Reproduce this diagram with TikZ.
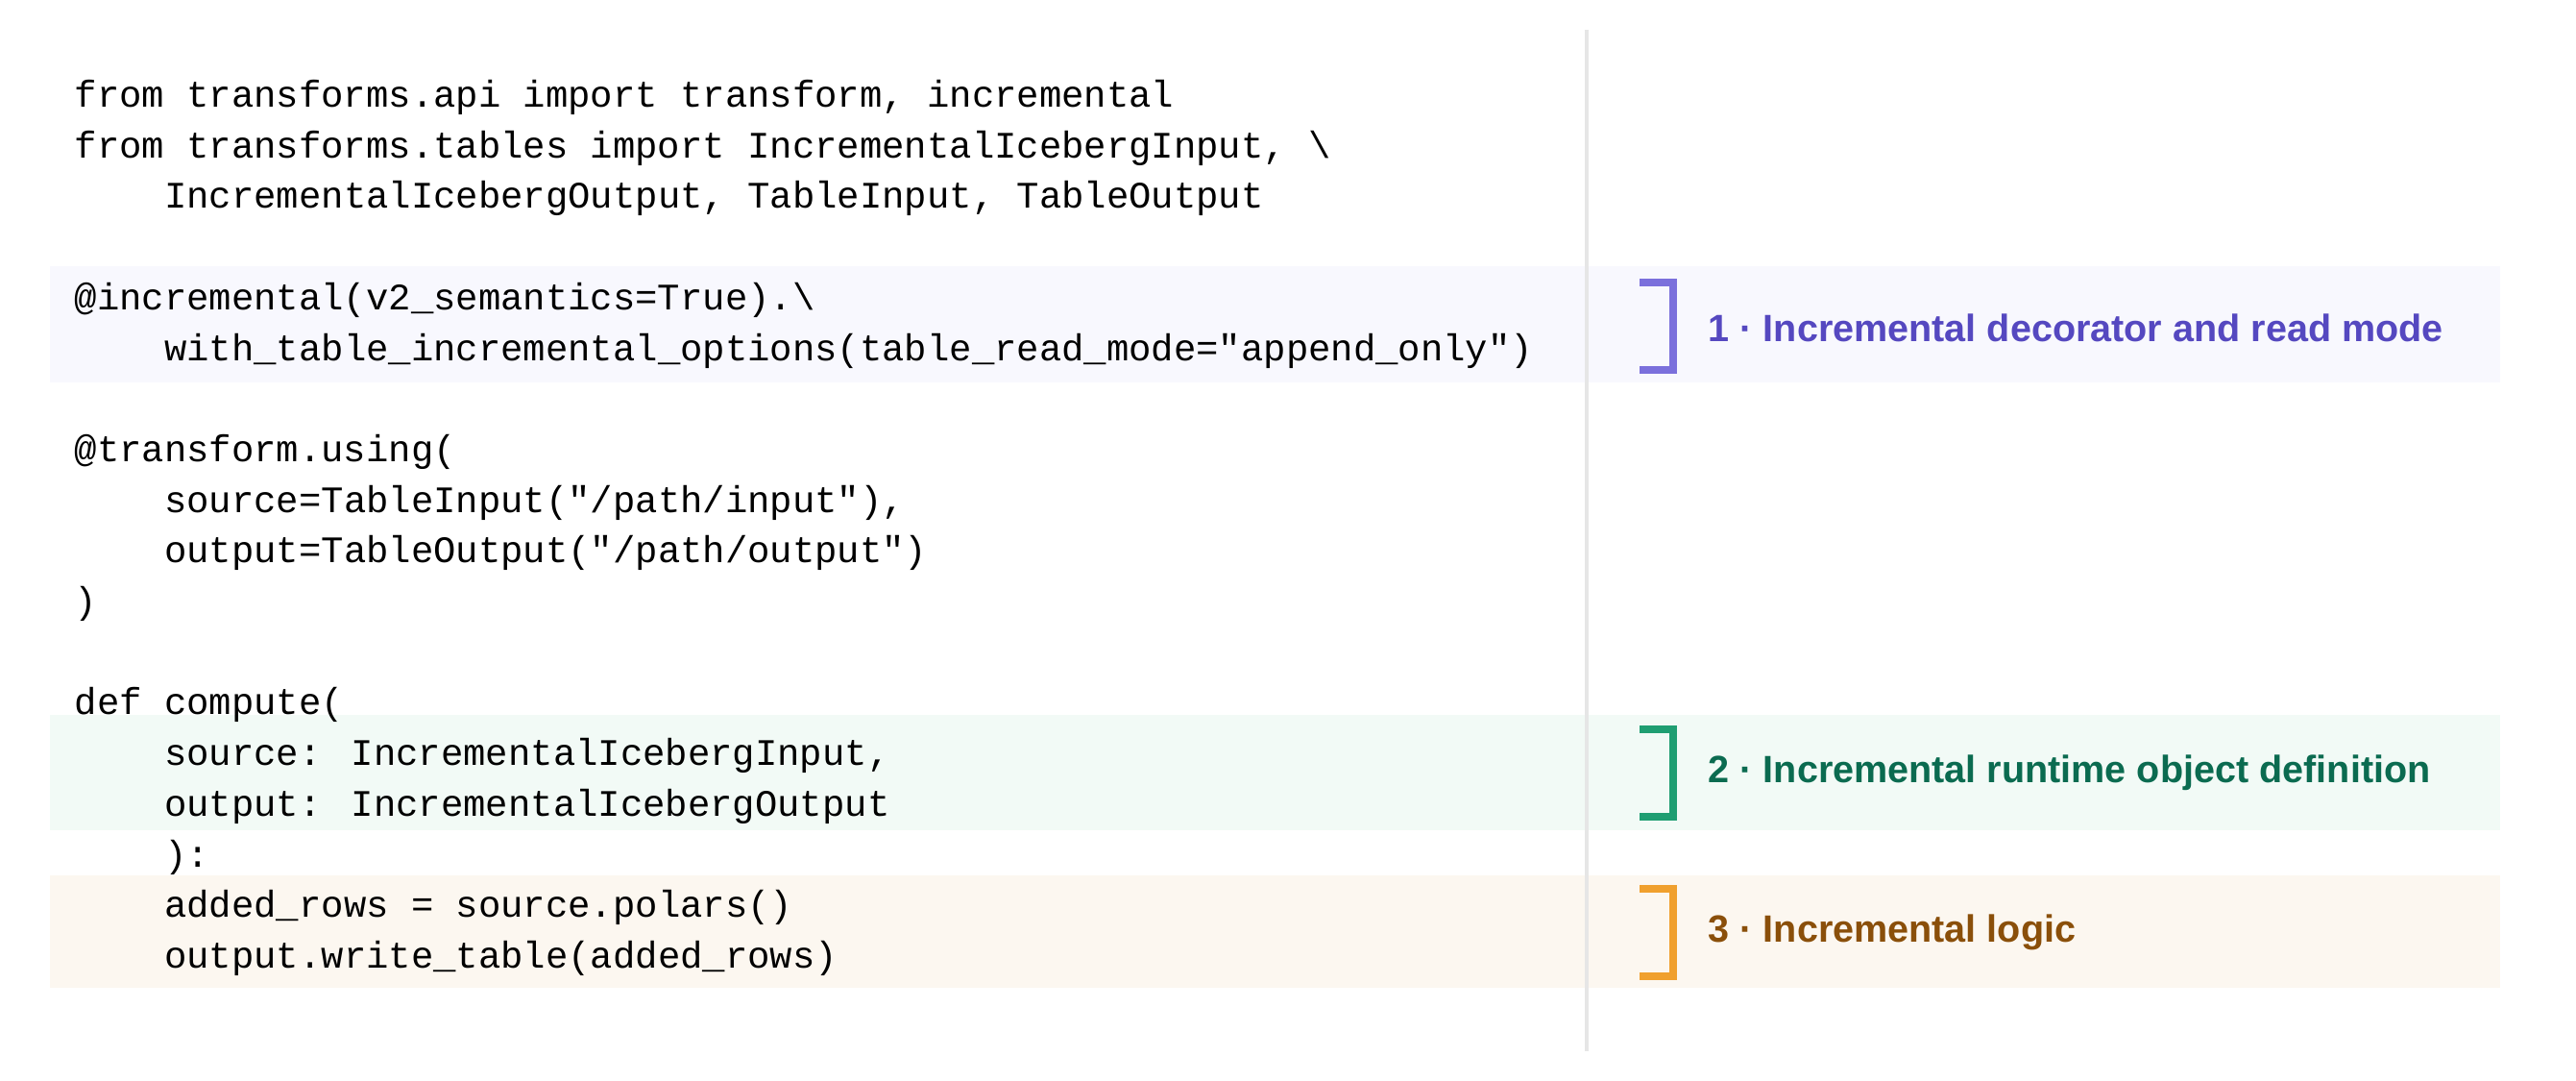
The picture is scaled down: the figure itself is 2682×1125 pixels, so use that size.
\documentclass[tikz,border=0pt]{standalone}
\usepackage{fontspec}
\usepackage{xcolor}
\newfontfamily\codefont{Liberation Mono}
\newfontfamily\notefont{Liberation Sans}
\definecolor{bandA}{HTML}{F8F8FE}
\definecolor{bandB}{HTML}{F2FAF6}
\definecolor{bandC}{HTML}{FCF7F0}
\definecolor{brkA}{HTML}{7B70DC}
\definecolor{brkB}{HTML}{1F9E72}
\definecolor{brkC}{HTML}{F0A02E}
\definecolor{txtA}{HTML}{5548C0}
\definecolor{txtB}{HTML}{0B6B50}
\definecolor{txtC}{HTML}{8A4F0A}
\definecolor{rule}{HTML}{E6E6E6}

\begin{document}
\begin{tikzpicture}[x=0.01cm,y=-0.01cm]
\tikzstyle{every node}+=[inner sep=0pt]
\tikzstyle{code}=[anchor=west,font=\codefont\fontsize{11.07}{13}\selectfont]
\tikzstyle{note}=[anchor=west,font=\notefont\bfseries\fontsize{11.25}{13}\selectfont]
\tikzstyle{brk}=[line width=2.2pt]
\useasboundingbox (0,0) rectangle (2682,1125);
% highlight bands
\fill [bandA] (52,277) rectangle (2603,398);
\fill [bandB] (52,744) rectangle (2603,864);
\fill [bandC] (52,911) rectangle (2603,1028);
\draw [rule,line width=1pt] (1652,31) -- (1652,1094);
% code
\node [code] (l1) at (77,101.5) {from transforms.api import transform, incremental};
\node [code] (l2) at (77,154.2) {from transforms.tables import IncrementalIcebergInput, \textbackslash};
\node [code] (l3) at (77,206.9) {\ \ \ \ IncrementalIcebergOutput, TableInput, TableOutput};
\node [code] (l4) at (77,312.3) {@incremental(v2\_semantics=True).\textbackslash};
\node [code] (l5) at (77,365) {\ \ \ \ with\_table\_incremental\_options(table\_read\_mode="append\_only")};
\node [code] (l6) at (77,470.4) {@transform.using(};
\node [code] (l7) at (77,523.1) {\ \ \ \ source=TableInput("/path/input"),};
\node [code] (l8) at (77,575.8) {\ \ \ \ output=TableOutput("/path/output")};
\node [code] (l9) at (77,628.5) {)};
\node [code] (l10) at (77,733.9) {def compute(};
\node [code] (l11) at (77,786.6) {\ \ \ \ source: IncrementalIcebergInput,};
\node [code] (l12) at (77,839.3) {\ \ \ \ output: IncrementalIcebergOutput};
\node [code] (l13) at (77,892) {\ \ \ \ ):};
\node [code] (l14) at (77,944.7) {\ \ \ \ added\_rows = source.polars()};
\node [code] (l15) at (77,997.4) {\ \ \ \ output.write\_table(added\_rows)};
% brackets and notes
\draw [brk,brkA] (1707,294) -- (1742,294) -- (1742,385) -- (1707,385);
\node [note,txtA] (n1) at (1778,341) {1 · Incremental decorator and read mode};
\draw [brk,brkB] (1707,759) -- (1742,759) -- (1742,850) -- (1707,850);
\node [note,txtB] (n2) at (1778,804) {2 · Incremental runtime object definition};
\draw [brk,brkC] (1707,925) -- (1742,925) -- (1742,1016) -- (1707,1016);
\node [note,txtC] (n3) at (1778,970) {3 · Incremental logic};
\end{tikzpicture}
\end{document}
